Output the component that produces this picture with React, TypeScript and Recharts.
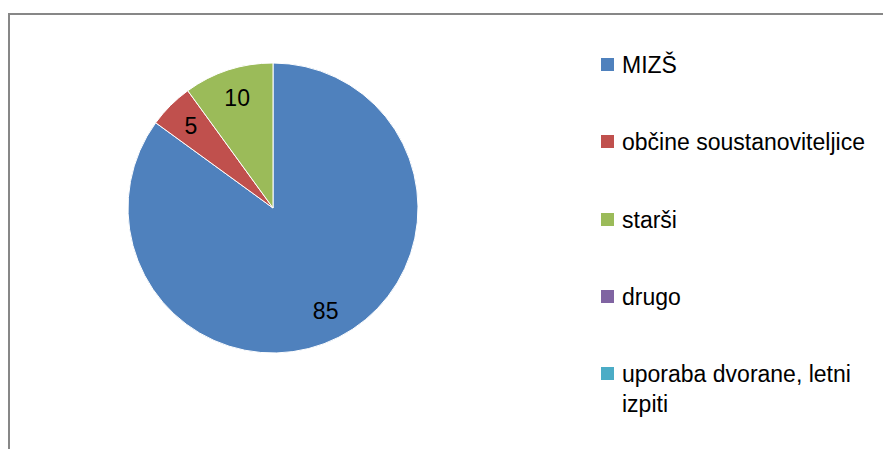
import React from 'react'
import { PieChart, Pie, Cell, Legend } from 'recharts'

const categories = ['MIZŠ', 'občine soustanoviteljice', 'starši', 'drugo', 'uporaba dvorane, letni izpiti']
const values = [85, 5, 10, 0, 0]
const colors = ['#4F81BD', '#C0504D', '#9BBB59', '#8064A2', '#4BACC6']

const data = categories.map((name, i) => ({ name, value: values[i] }))

const RAD = Math.PI / 180
const FONT = '"Liberation Sans", Arial, sans-serif'

// Labels sit inside the slices, about 80% of the radius out
const renderLabel = (props: any) => {
  const { cx, cy, midAngle, outerRadius, value } = props
  if (!value) return null
  const r = outerRadius * 0.8
  const x = cx + r * Math.cos(-midAngle * RAD)
  const y = cy + r * Math.sin(-midAngle * RAD)
  return (
    <text
      x={x}
      y={y}
      fill="#000"
      textAnchor="middle"
      dominantBaseline="central"
      style={{ fontSize: 23, fontFamily: FONT }}
    >
      {value}
    </text>
  )
}

const LegendContent = () => (
  <div style={{ fontFamily: FONT, fontSize: 23, lineHeight: '30px', color: '#000' }}>
    {categories.map((name, i) => (
      <div key={name} style={{ display: 'flex', alignItems: 'flex-start', height: 77.3 }}>
        <span
          style={{
            display: 'inline-block',
            width: 13,
            height: 13,
            marginTop: 8,
            marginRight: 8,
            background: colors[i],
            flexShrink: 0
          }}
        />
        <span style={{ width: 252 }}>{name}</span>
      </div>
    ))}
  </div>
)

export default function App() {
  return (
    <div
      style={{
        position: 'absolute',
        left: 0,
        top: 0,
        width: 883,
        height: 449,
        overflow: 'hidden',
        background: '#fff'
      }}
    >
      <div
        style={{
          position: 'absolute',
          left: 8,
          top: 13,
          width: 1000,
          height: 1000,
          border: '2px solid #878787'
        }}
      />
      <div style={{ position: 'absolute', left: 0, top: 0 }}>
        <PieChart width={883} height={449} margin={{ top: 0, right: 0, bottom: 0, left: 0 }}>
          <Pie
            data={data}
            dataKey="value"
            nameKey="name"
            cx={273}
            cy={208}
            outerRadius={145}
            startAngle={90}
            endAngle={-270}
            stroke="#fff"
            strokeWidth={1}
            label={renderLabel}
            labelLine={false}
            isAnimationActive={false}
          >
            {data.map((d, i) => (
              <Cell key={d.name} fill={colors[i]} />
            ))}
          </Pie>
          <Legend
            layout="vertical"
            content={<LegendContent />}
            wrapperStyle={{ left: 601, top: 50, width: 280 }}
          />
        </PieChart>
      </div>
    </div>
  )
}
